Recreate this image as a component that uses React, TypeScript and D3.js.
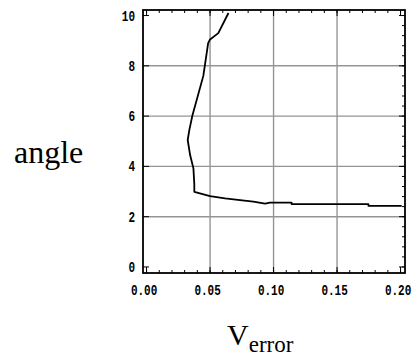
import React from "react";
import * as d3 from "d3";

const xValues = [0.0645, 0.0565, 0.05, 0.0485, 0.0447, 0.036, 0.0337, 0.0324, 0.0343, 0.0369, 0.0376, 0.0376, 0.05, 0.0618, 0.0736, 0.0841, 0.0933, 0.0972, 0.1142, 0.1142, 0.1747, 0.1747, 0.2009];
const yValues = [10.1, 9.3, 9.05, 8.9, 7.6, 6.0, 5.45, 5.05, 4.45, 3.92, 3.3, 2.99, 2.82, 2.73, 2.66, 2.6, 2.52, 2.56, 2.56, 2.5, 2.5, 2.43, 2.43];

const xTicks = [0, 0.05, 0.1, 0.15, 0.2];
const xTickLabels = ["0.00", "0.05", "0.10", "0.15", "0.20"];
const yTicks = [0, 2, 4, 6, 8, 10];
const yTickLabels = ["0", "2", "4", "6", "8", "10"];

const W = 415;
const H = 358;
const L = 143, R = 405, T = 10, B = 273;

export default function App() {
  const x = d3.scaleLinear().domain([-0.0028, 0.2035]).range([L, R]);
  const y = d3.scaleLinear().domain([-0.24, 10.22]).range([B, T]);

  const pts: [number, number][] = xValues.map((v, i) => [v, yValues[i]]);
  const line = d3.line<[number, number]>().x((d) => x(d[0])).y((d) => y(d[1]));

  const xMinor = d3.range(0, 0.2001, 0.01);
  const yMinor = d3.range(0, 10.01, 0.4);

  const tickFont = "'Liberation Mono', 'DejaVu Sans Mono', monospace";

  return (
    <svg width={W} height={H} style={{ position: "absolute", left: 0, top: 0, background: "#fff" }}>
      {/* grid */}
      {xTicks.slice(1, 4).map((t) => (
        <line key={"gx" + t} x1={x(t)} x2={x(t)} y1={T} y2={B} stroke="#959595" strokeWidth={1.4} />
      ))}
      {yTicks.slice(1, 5).map((t) => (
        <line key={"gy" + t} x1={L} x2={R} y1={y(t)} y2={y(t)} stroke="#959595" strokeWidth={1.4} />
      ))}
      {/* minor ticks bottom/top */}
      {xMinor.map((t) => (
        <g key={"mx" + t}>
          <line x1={x(t)} x2={x(t)} y1={B} y2={B - 3} stroke="#000" strokeWidth={1} />
          <line x1={x(t)} x2={x(t)} y1={T} y2={T + 3} stroke="#000" strokeWidth={1} />
        </g>
      ))}
      {xTicks.map((t) => (
        <g key={"Mx" + t}>
          <line x1={x(t)} x2={x(t)} y1={B} y2={B - 6} stroke="#000" strokeWidth={1} />
          <line x1={x(t)} x2={x(t)} y1={T} y2={T + 6} stroke="#000" strokeWidth={1} />
        </g>
      ))}
      {/* right minor ticks */}
      {yMinor.map((t) => (
        <line key={"my" + t} x1={R} x2={R - 3} y1={y(t)} y2={y(t)} stroke="#000" strokeWidth={1} />
      ))}
      {yTicks.map((t) => (
        <g key={"My" + t}>
          <line x1={R} x2={R - 6} y1={y(t)} y2={y(t)} stroke="#000" strokeWidth={1} />
          <line x1={L} x2={L + 6} y1={y(t)} y2={y(t)} stroke="#000" strokeWidth={1} />
        </g>
      ))}
      {/* frame */}
      <rect x={L} y={T} width={R - L} height={B - T} fill="none" stroke="#000" strokeWidth={1.8} />
      {/* curve */}
      <path d={line(pts) || ""} fill="none" stroke="#000" strokeWidth={1.8} strokeLinejoin="round" />
      {/* tick labels */}
      {xTicks.map((t, i) => (
        <text
          key={"lx" + t}
          transform={`translate(${x(t) - 2.5},${295}) scale(1,1.35)`}
          textAnchor="middle"
          fontFamily={tickFont}
          fontSize={11}
          fontWeight="bold"
          fill="#000"
        >
          {xTickLabels[i]}
        </text>
      ))}
      {yTicks.map((t, i) => (
        <text
          key={"ly" + t}
          transform={`translate(${135},${y(t) + 5}) scale(1,1.35)`}
          textAnchor="end"
          fontFamily={tickFont}
          fontSize={11}
          fontWeight="bold"
          fill="#000"
        >
          {yTickLabels[i]}
        </text>
      ))}
      {/* axis titles */}
      <text x={14} y={163} fontFamily="'Liberation Serif', 'Times New Roman', serif" fontSize={32} fill="#000">
        angle
      </text>
      <text x={227} y={345} fontFamily="'Liberation Serif', 'Times New Roman', serif" fontSize={30} fill="#000">
        V
        <tspan fontSize={23} dy={7}>error</tspan>
      </text>
    </svg>
  );
}
